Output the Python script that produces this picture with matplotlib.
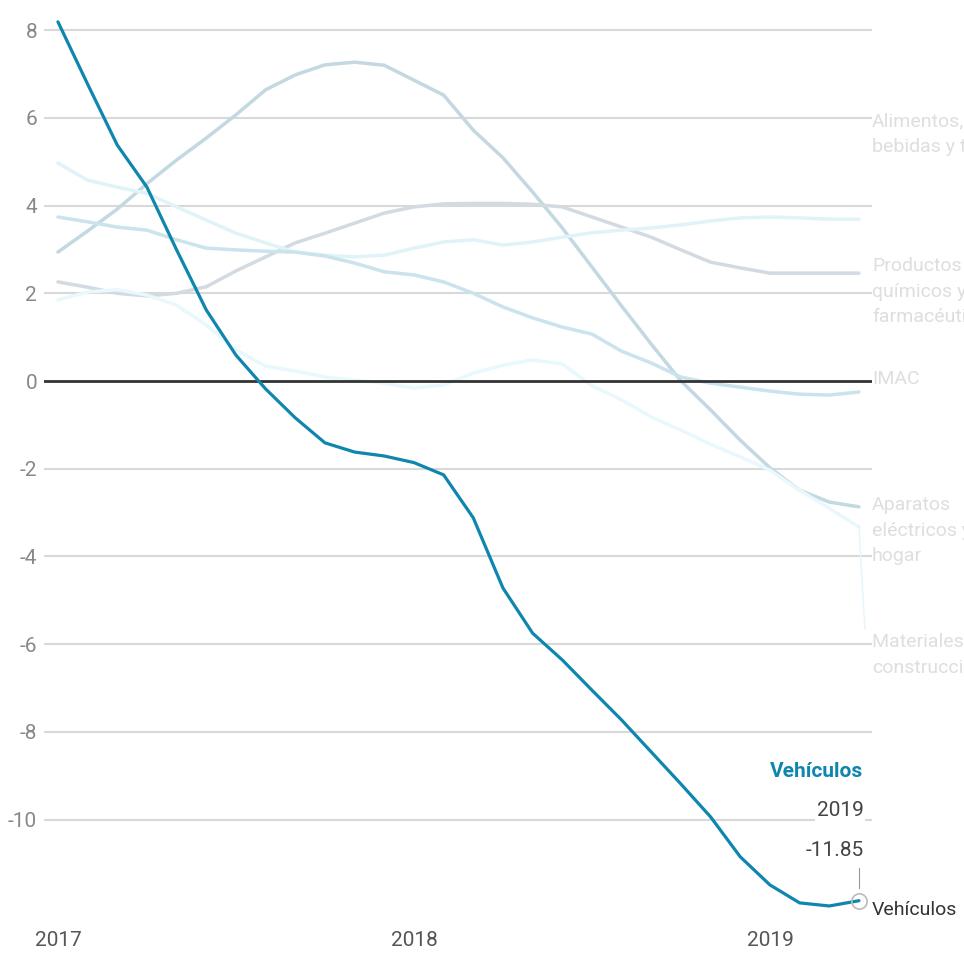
import matplotlib
matplotlib.use("Agg")
import matplotlib.pyplot as plt
import matplotlib.transforms as mtransforms

# ──────────────────────────────────────────────
# Datos: variación (%) mensual, ene-2017 .. abr-2019
# ──────────────────────────────────────────────
meses = list(range(28))          # 0 = ene 2017
anios = ["2017", "2018", "2019"]
anios_pos = [0, 12, 24]

vehiculos = [8.19, 6.77, 5.38, 4.42, 2.99, 1.62, 0.59, -0.18, -0.84, -1.41,
             -1.62, -1.71, -1.86, -2.14, -3.12, -4.72, -5.75, -6.36, -7.05, -7.73,
             -8.46, -9.19, -9.94, -10.85, -11.49, -11.9, -11.97, -11.85]

aparatos = [2.94, 3.42, 3.92, 4.5, 5.04, 5.54, 6.07, 6.64, 6.98, 7.21,
            7.27, 7.2, 6.86, 6.52, 5.72, 5.09, 4.31, 3.49, 2.6, 1.71,
            0.84, 0.0, -0.66, -1.35, -1.98, -2.49, -2.76, -2.87]

productos = [2.26, 2.14, 2.0, 1.94, 2.0, 2.15, 2.51, 2.83, 3.15, 3.37,
             3.6, 3.83, 3.97, 4.04, 4.05, 4.05, 4.03, 3.97, 3.74, 3.51,
             3.28, 2.99, 2.71, 2.58, 2.46, 2.46, 2.46, 2.46]

alimentos = [4.97, 4.58, 4.42, 4.28, 3.97, 3.67, 3.37, 3.15, 2.94, 2.87,
             2.83, 2.87, 3.03, 3.17, 3.22, 3.1, 3.17, 3.28, 3.38, 3.44,
             3.49, 3.56, 3.65, 3.72, 3.74, 3.72, 3.69, 3.69]

imac = [3.74, 3.63, 3.51, 3.44, 3.22, 3.03, 2.99, 2.96, 2.94, 2.85,
        2.69, 2.49, 2.42, 2.26, 2.0, 1.69, 1.44, 1.23, 1.07, 0.68,
        0.41, 0.09, -0.05, -0.14, -0.23, -0.3, -0.32, -0.25]

materiales = [1.85, 2.03, 2.08, 1.96, 1.73, 1.28, 0.71, 0.34, 0.23, 0.09,
              0.02, -0.05, -0.16, -0.09, 0.18, 0.36, 0.48, 0.39, -0.11, -0.43,
              -0.82, -1.12, -1.44, -1.73, -2.03, -2.49, -2.9, -3.33]

# etiquetas a la derecha y su posición (borde superior, en valor del eje y)
etiquetas = ["Alimentos,\nbebidas y tabaco",
             "Productos\nquímicos y\nfarmacéuticos",
             "IMAC",
             "Aparatos\neléctricos y\nhogar",
             "Materiales de\nconstrucción"]
etiquetas_y = [6.13, 2.83, 0.25, -2.62, -5.75]

series_fondo = [
    (aparatos,   "#c3d8e1"),
    (productos,  "#d3dae2"),
    (alimentos,  "#e0f3f9"),
    (imac,       "#cbe3ec"),
    (materiales, "#e8f8fc"),
]

AZUL = "#0e86ad"
plt.rcParams["font.family"] = ["Roboto", "DejaVu Sans"]

fig = plt.figure(figsize=(9.64, 9.56), dpi=100)
ax = fig.add_axes([44 / 964, 36 / 956, 828 / 964, 910 / 956])
ax.set_xlim(-0.47, 27.44)
ax.set_ylim(-12.29, 8.46)

# ── grilla horizontal ──
for v in range(-10, 9, 2):
    if v == 0:
        ax.axhline(0, color="#333333", linewidth=2.0, zorder=3)
    else:
        ax.axhline(v, color="#d9d9d9", linewidth=1.5, zorder=1)

# ── series en segundo plano ──
for datos, color in series_fondo:
    ax.plot(meses, datos, color=color, linewidth=2.5, zorder=2,
            solid_capstyle="round", solid_joinstyle="round")

# línea guía de "Materiales de construcción"
ax.plot([meses[-1], meses[-1] + 0.2], [materiales[-1], etiquetas_y[-1] + 0.1],
        color="#e3f6fc", linewidth=1.0, zorder=2, clip_on=False)

# ── Vehículos ──
ax.plot(meses, vehiculos, color=AZUL, linewidth=2.3, zorder=5,
        solid_capstyle="round", solid_joinstyle="round")
ax.plot([meses[-1]], [vehiculos[-1]], marker="o", markersize=11,
        markerfacecolor="none", markeredgecolor="#bbbbbb",
        markeredgewidth=1.2, zorder=6, clip_on=False)
ax.plot([meses[-1], meses[-1]], [vehiculos[-1] + 0.75, vehiculos[-1] + 0.3],
        color="#999999", linewidth=0.8, zorder=6)

# ── etiquetas a la derecha ──
trans = mtransforms.blended_transform_factory(ax.transAxes, ax.transData)
for texto, y in zip(etiquetas, etiquetas_y):
    ax.text(1.0, y, texto, transform=trans, ha="left", va="top",
            fontsize=14, color="#dedede", linespacing=1.55, clip_on=False)
ax.text(1.0, vehiculos[-1] - 0.22, "Vehículos", transform=trans,
        ha="left", va="center", fontsize=14, color="#333333")

# ── anotación del último valor ──
ax.text(meses[-1] + 0.15, -8.9, "Vehículos", ha="right", va="center",
        fontsize=15, fontweight="bold", color=AZUL, zorder=7)
ax.text(meses[-1] + 0.15, -9.8, "2019", ha="right", va="center",
        fontsize=15, color="#444444", zorder=7,
        bbox=dict(facecolor="white", edgecolor="none", pad=1))
ax.text(meses[-1] + 0.15, -10.7, f"{vehiculos[-1]:.2f}", ha="right",
        va="center", fontsize=15, color="#444444", zorder=7)

# ── ejes ──
ax.set_yticks(range(-10, 9, 2))
ax.set_yticklabels([str(v) for v in range(-10, 9, 2)])
ax.set_xticks(anios_pos)
ax.set_xticklabels(anios)
ax.tick_params(axis="y", length=0, pad=5, labelsize=15, labelcolor="#888888")
ax.tick_params(axis="x", length=0, pad=8, labelsize=15, labelcolor="#555555")
for s in ax.spines.values():
    s.set_visible(False)

fig.savefig("out.png", dpi=100, facecolor="white")
